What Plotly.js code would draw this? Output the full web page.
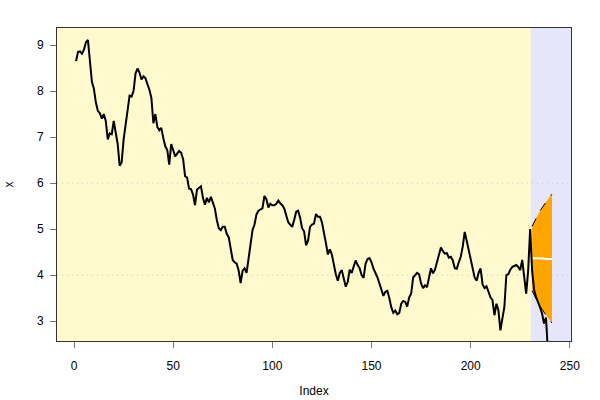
<!DOCTYPE html>
<html>
<head>
<meta charset="utf-8">
<script src="https://cdn.plot.ly/plotly-3.0.1.min.js"></script>
<style>html,body{margin:0;padding:0;background:#fff;}#chart{width:600px;height:400px;}</style>
</head>
<body>
<div id="chart"></div>
<script>
// Observed series (index 1..230)
const observed = [
8.65,8.85,8.86,8.81,8.90,9.06,9.11,8.70,8.20,8.05,
7.75,7.57,7.52,7.40,7.50,7.35,6.95,7.08,7.06,7.35,
7.05,6.85,6.38,6.45,6.95,7.25,7.55,7.90,7.88,8.00,
8.38,8.49,8.40,8.25,8.32,8.28,8.15,8.03,7.85,7.30,
7.50,7.22,7.15,7.20,6.98,6.80,6.72,6.40,6.85,6.70,
6.58,6.64,6.70,6.66,6.52,6.15,6.12,5.88,5.87,5.75,
5.52,5.86,5.90,5.93,5.68,5.53,5.68,5.58,5.70,5.58,
5.45,5.20,5.02,4.98,5.05,5.05,4.90,4.82,4.55,4.33,
4.28,4.25,4.10,3.83,4.10,4.15,4.05,4.35,4.72,4.98,
5.10,5.32,5.40,5.42,5.45,5.72,5.65,5.47,5.55,5.52,
5.52,5.55,5.62,5.56,5.52,5.45,5.27,5.15,5.10,5.05,
5.20,5.38,5.40,5.25,5.02,4.95,4.65,4.75,5.05,5.10,
5.12,5.33,5.27,5.27,5.15,4.95,4.70,4.45,4.56,4.45,
4.20,4.02,3.88,4.05,4.11,3.95,3.75,3.85,4.12,4.05,
4.20,4.32,4.22,4.15,4.00,3.94,4.25,4.35,4.37,4.28,
4.14,4.06,3.95,3.82,3.70,3.55,3.64,3.66,3.50,3.30,
3.18,3.23,3.15,3.18,3.38,3.44,3.42,3.32,3.52,3.60,
3.95,4.00,4.05,4.02,3.82,3.72,3.78,3.74,3.95,4.15,
4.04,4.12,4.28,4.45,4.60,4.52,4.47,4.48,4.38,4.40,
4.32,4.15,4.14,4.28,4.40,4.62,4.94,4.75,4.55,4.38,
4.15,3.95,3.88,4.05,4.15,3.80,3.72,3.76,3.64,3.52,
3.46,3.13,3.38,3.24,2.80,3.09,3.31,4.00,4.02,4.12,
4.18,4.20,4.22,4.18,4.11,4.33,3.96,3.60,4.10,5.00
];
// Actual values after the forecast origin (index 231..239)
const actualAfter = [4.10,3.68,3.52,3.42,3.30,3.17,2.95,3.08,2.30];
// Forecast (index 231..241)
const fcMean  = [4.37,4.37,4.36,4.36,4.36,4.36,4.36,4.35,4.35,4.35,4.35];
const fcUpper = [5.06,5.16,5.24,5.32,5.40,5.47,5.53,5.59,5.65,5.71,5.76];
const fcLower = [3.66,3.56,3.48,3.40,3.32,3.25,3.19,3.13,3.07,3.01,2.96];
const xTicks = [0,50,100,150,200,250];
const yTicks = [3,4,5,6,7,8,9];
const gridLevels = [4,6];

const n = observed.length;
const obsX = observed.map((_, i) => i + 1);
const actX = actualAfter.map((_, i) => n + i + 1);
const fcX = fcMean.map((_, i) => n + i + 1);
const fullX = obsX.concat(actX);
const fullY = observed.concat(actualAfter);

const traces = [
  { x: fcX.concat(fcX.slice().reverse()),
    y: fcUpper.concat(fcLower.slice().reverse()),
    type: 'scatter', mode: 'lines', fill: 'toself', fillcolor: '#FFA500',
    line: { width: 0, color: '#FFA500' }, hoverinfo: 'skip', showlegend: false },
  { x: fcX, y: fcUpper, type: 'scatter', mode: 'lines',
    line: { color: '#000', width: 1, dash: 'dash' }, showlegend: false },
  { x: fcX, y: fcLower, type: 'scatter', mode: 'lines',
    line: { color: '#000', width: 1, dash: 'dash' }, showlegend: false },
  { x: fcX, y: fcMean, type: 'scatter', mode: 'lines',
    line: { color: '#FFFFFF', width: 2 }, showlegend: false },
  { x: fullX, y: fullY, type: 'scatter', mode: 'lines',
    line: { color: '#000', width: 2 }, showlegend: false }
];

const xRange = [-8.6, 250.6];
const shapes = [
  { type: 'rect', xref: 'x', yref: 'paper', x0: n + 0.3, x1: xRange[1], y0: 0, y1: 1,
    fillcolor: '#E6E6FA', line: { width: 0 }, layer: 'below' }
].concat(gridLevels.map(g => ({
  type: 'line', xref: 'paper', yref: 'y', x0: 0, x1: 1, y0: g, y1: g,
  line: { color: '#C8C8C8', width: 1, dash: '1px,4px' }, layer: 'between'
})));

const font = { family: 'Liberation Sans, Arial, sans-serif', size: 12, color: '#000' };
const layout = {
  width: 600, height: 400,
  margin: { l: 57, r: 29, t: 28, b: 59 },
  paper_bgcolor: '#FFFFFF', plot_bgcolor: '#FFFACD',
  font: font, showlegend: false,
  xaxis: { range: xRange, tickvals: xTicks, ticktext: xTicks.map(String),
    showgrid: false, zeroline: false, showline: true, mirror: true,
    linecolor: '#333', linewidth: 1, ticks: 'outside', ticklen: 6, tickcolor: '#777',
    ticklabelstandoff: 8, tickfont: font,
    title: { text: 'Index', font: font, standoff: 14 } },
  yaxis: { range: [2.57, 9.37], tickvals: yTicks, ticktext: yTicks.map(String),
    showgrid: false, zeroline: false, showline: true, mirror: true,
    linecolor: '#333', linewidth: 1, ticks: 'outside', ticklen: 6, tickcolor: '#777',
    ticklabelstandoff: 4, tickfont: font,
    title: { text: 'x', font: font, standoff: 20 } },
  shapes: shapes
};
Plotly.newPlot('chart', traces, layout, { displayModeBar: false, staticPlot: true });
</script>
</body>
</html>
